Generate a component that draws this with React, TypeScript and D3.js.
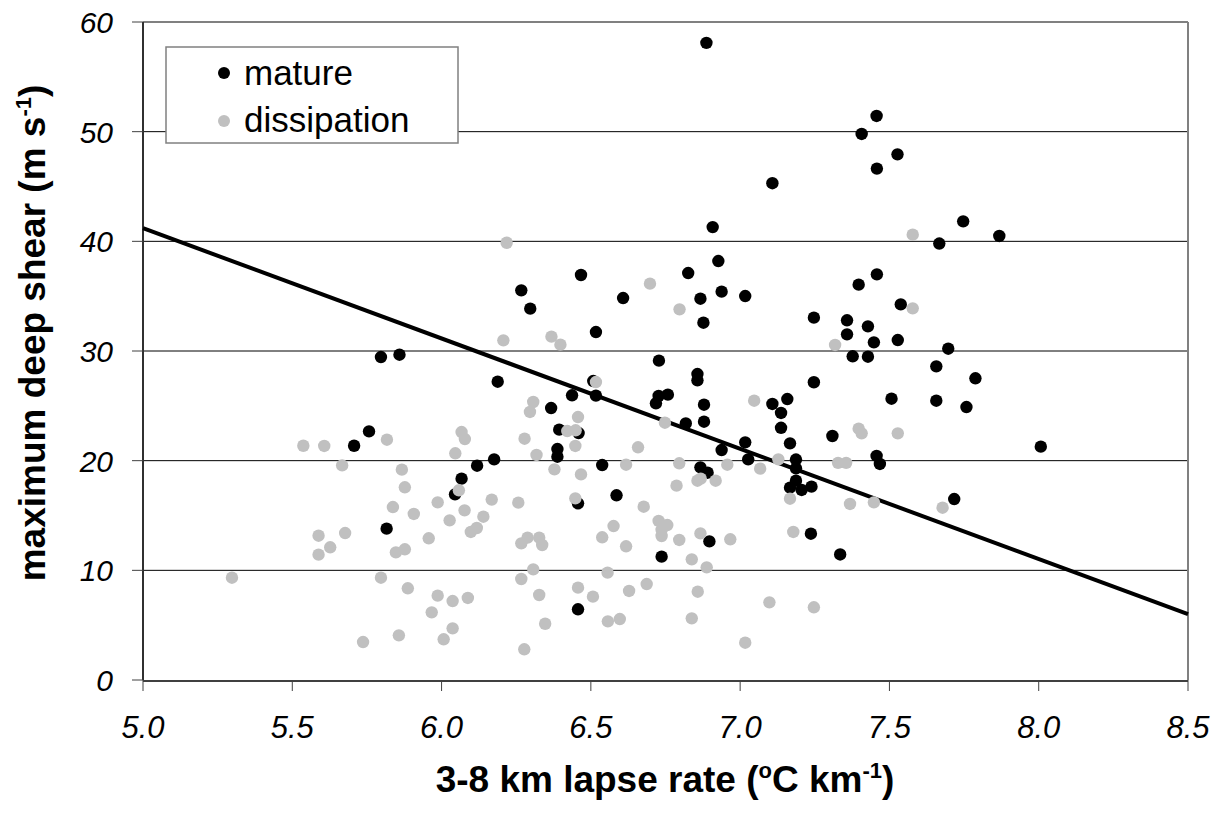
import React from "react";
import * as d3 from "d3";

const mature: [number, number][] = [
  [6.887, 58.1], [7.108, 45.3], [6.908, 41.3], [6.267, 35.53], [6.297, 33.86], [6.467, 36.93],
  [6.608, 34.83], [6.826, 37.11], [6.927, 38.2], [6.938, 35.41], [6.867, 34.77], [7.017, 35.01],
  [6.877, 32.58], [7.247, 33.04], [6.517, 31.73], [6.728, 29.12], [6.188, 27.2], [6.508, 27.26],
  [6.857, 27.9], [6.857, 27.33], [7.247, 27.15], [6.437, 25.96], [6.517, 25.93], [6.727, 25.9],
  [6.718, 25.23], [6.758, 26.02], [6.879, 25.1], [6.367, 24.8], [7.108, 25.17], [7.158, 25.62],
  [7.137, 24.35], [7.137, 23.0], [7.167, 21.58], [7.309, 22.25], [6.818, 23.4], [6.879, 23.55],
  [6.394, 22.83], [6.459, 22.52], [6.388, 21.06], [7.017, 21.67], [6.938, 20.97], [6.388, 20.36],
  [6.176, 20.12], [7.027, 20.12], [7.187, 20.1], [6.119, 19.54], [6.538, 19.6], [6.867, 19.39],
  [6.891, 18.9], [7.187, 19.3], [7.167, 17.54], [7.206, 17.33], [7.239, 17.63], [7.187, 18.17],
  [6.457, 16.11], [6.586, 16.84], [6.897, 12.64], [6.737, 11.25], [7.237, 13.34], [7.335, 11.45],
  [6.457, 6.45], [5.707, 21.36], [5.757, 22.67], [5.797, 29.45], [5.859, 29.66], [6.067, 18.36],
  [6.045, 16.93], [5.816, 13.8], [7.457, 51.43], [7.407, 49.79], [7.527, 47.93], [7.458, 46.63],
  [7.747, 41.82], [7.667, 39.8], [7.868, 40.49], [7.458, 36.99], [7.397, 36.05], [7.538, 34.25],
  [7.358, 32.8], [7.428, 32.25], [7.358, 31.52], [7.448, 30.79], [7.528, 31.0], [7.697, 30.21],
  [7.377, 29.52], [7.428, 29.48], [7.657, 28.6], [7.788, 27.51], [7.507, 25.65], [7.657, 25.47],
  [7.758, 24.89], [8.007, 21.28], [7.457, 20.43], [7.468, 19.7], [7.717, 16.5],
];

const dissipation: [number, number][] = [
  [6.218, 39.87], [6.698, 36.14], [6.797, 33.8], [6.207, 30.97], [6.368, 31.31], [6.398, 30.58],
  [7.318, 30.55], [6.517, 27.17], [6.307, 25.35], [6.296, 24.44], [7.047, 25.47], [6.457, 23.98],
  [6.748, 23.46], [6.421, 22.7], [6.449, 22.77], [6.278, 22.0], [6.448, 21.34], [6.658, 21.22],
  [6.318, 20.52], [7.128, 20.12], [6.378, 19.21], [6.467, 18.75], [6.618, 19.63], [6.796, 19.76],
  [6.957, 19.63], [7.067, 19.27], [7.167, 16.53], [6.857, 18.17], [6.868, 18.36], [6.918, 18.17],
  [6.787, 17.72], [6.168, 16.45], [6.257, 16.17], [6.14, 14.89], [6.118, 13.86], [6.098, 13.5],
  [6.448, 16.56], [6.677, 15.8], [6.727, 14.5], [6.756, 14.13], [6.737, 13.68], [6.737, 13.13],
  [6.576, 14.04], [6.538, 13.01], [6.618, 12.19], [6.288, 12.98], [6.267, 12.46], [6.327, 12.98],
  [6.337, 12.31], [6.796, 12.77], [6.867, 13.37], [6.967, 12.83], [6.838, 11.0], [6.888, 10.27],
  [7.178, 13.5], [6.307, 10.09], [6.267, 9.21], [6.556, 9.79], [6.327, 7.75], [6.457, 8.42],
  [6.507, 7.6], [6.628, 8.12], [6.687, 8.75], [6.858, 8.05], [6.347, 5.13], [6.557, 5.35],
  [6.597, 5.56], [6.838, 5.62], [7.098, 7.08], [7.247, 6.63], [6.277, 2.8], [7.017, 3.4],
  [5.537, 21.36], [5.607, 21.34], [5.817, 21.91], [6.067, 22.61], [6.078, 21.97], [6.046, 20.67],
  [6.058, 17.3], [5.667, 19.57], [5.867, 19.18], [5.877, 17.57], [5.837, 15.77], [5.907, 15.14],
  [5.987, 16.2], [6.077, 15.47], [6.027, 14.56], [5.588, 13.16], [5.677, 13.4], [5.627, 12.1],
  [5.588, 11.43], [5.847, 11.64], [5.877, 11.92], [5.957, 12.92], [5.298, 9.33], [5.797, 9.33],
  [5.887, 8.36], [5.987, 7.69], [6.037, 7.2], [6.088, 7.48], [5.967, 6.17], [6.037, 4.71],
  [6.007, 3.71], [5.857, 4.07], [5.737, 3.46], [7.578, 40.61], [7.578, 33.89], [7.397, 22.92],
  [7.407, 22.49], [7.528, 22.49], [7.328, 19.8], [7.355, 19.8], [7.368, 16.05], [7.448, 16.2],
  [7.678, 15.71],
];

const trend: [number, number][] = [[5.0, 41.2], [8.5, 6.0]];
const xTicks = [5.0, 5.5, 6.0, 6.5, 7.0, 7.5, 8.0, 8.5];
const yTicks = [0, 10, 20, 30, 40, 50, 60];
const seriesNames = ["mature", "dissipation"];
const seriesColors = ["#000000", "#c0c0c0"];

const W = 1223;
const H = 813;
const L = 143, R = 1188, T = 22, B = 680;
const FONT = "'Liberation Sans', Arial, Helvetica, sans-serif";

export default function App() {
  const x = d3.scaleLinear().domain([5, 8.5]).range([L, R]);
  const y = d3.scaleLinear().domain([0, 60]).range([B, T]);
  const line = d3.line<[number, number]>().x((d) => x(d[0])).y((d) => y(d[1]));

  return (
    <svg width={W} height={H} style={{ position: "absolute", left: 0, top: 0, background: "#fff" }} fontFamily={FONT}>
      <rect x={0} y={0} width={W} height={H} fill="#fff" />
      {yTicks.filter((v) => v > 0 && v < 60).map((v) => (
        <line key={"g" + v} x1={L} x2={R} y1={y(v)} y2={y(v)} stroke="#000" strokeWidth={1} />
      ))}
      <line x1={L} x2={R} y1={T} y2={T} stroke="#808080" strokeWidth={2} />
      <line x1={R} x2={R} y1={T} y2={B} stroke="#808080" strokeWidth={2} />
      <line x1={L} x2={L} y1={T} y2={B} stroke="#303030" strokeWidth={2} />
      <line x1={L} x2={R} y1={B + 1} y2={B + 1} stroke="#404040" strokeWidth={2} />
      {yTicks.map((v) => (
        <line key={"yt" + v} x1={L - 11} x2={L} y1={y(v)} y2={y(v)} stroke="#404040" strokeWidth={1} />
      ))}
      {xTicks.map((v) => (
        <line key={"xt" + v} x1={x(v)} x2={x(v)} y1={B} y2={B + 11} stroke="#404040" strokeWidth={1} />
      ))}
      {yTicks.map((v) => (
        <text key={"yl" + v} x={113} y={y(v) + 11} textAnchor="end" fontSize={30} fontStyle="italic">
          {String(v)}
        </text>
      ))}
      {xTicks.map((v) => (
        <text key={"xl" + v} x={x(v)} y={738} textAnchor="middle" fontSize={31} fontStyle="italic">
          {d3.format(".1f")(v)}
        </text>
      ))}
      <text x={665} y={792} textAnchor="middle" fontSize={37} fontWeight="bold">
        3-8 km lapse rate (<tspan fontSize={22} dy={-14}>o</tspan>
        <tspan dy={14}>C km</tspan>
        <tspan fontSize={22} dy={-14}>-1</tspan>
        <tspan dy={14}>)</tspan>
      </text>
      <text transform="translate(45,333) rotate(-90)" textAnchor="middle" fontSize={37} fontWeight="bold">
        maximum deep shear (m s<tspan fontSize={22} dy={-14}>-1</tspan>
        <tspan dy={14}>)</tspan>
      </text>
      <path d={line(trend) || ""} stroke="#000" strokeWidth={4} fill="none" />
      {mature.map((d, i) => (
        <circle key={"m" + i} cx={x(d[0])} cy={y(d[1])} r={6.2} fill={seriesColors[0]} />
      ))}
      {dissipation.map((d, i) => (
        <circle key={"d" + i} cx={x(d[0])} cy={y(d[1])} r={6.2} fill={seriesColors[1]} />
      ))}
      <rect x={166} y={47} width={292} height={96} fill="#fff" stroke="#808080" strokeWidth={1.5} />
      {seriesNames.map((n, i) => (
        <g key={n}>
          <circle cx={224} cy={73 + i * 48} r={6} fill={seriesColors[i]} />
          <text x={244} y={85 + i * 47} fontSize={35}>{n}</text>
        </g>
      ))}
    </svg>
  );
}
